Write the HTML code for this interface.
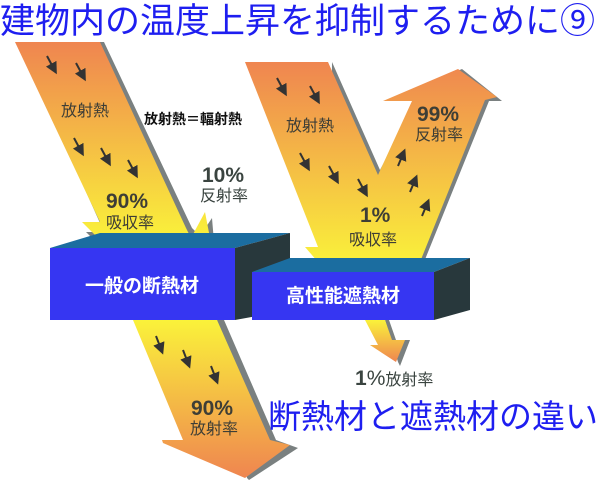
<!DOCTYPE html>
<html><head><meta charset="utf-8"><style>
body{margin:0;width:600px;height:480px;overflow:hidden;background:#fff}
svg{display:block}
text{font-family:"Liberation Sans","Noto Sans CJK JP",sans-serif}
</style></head><body>
<svg width="600" height="480" viewBox="0 0 600 480">
<defs>
<linearGradient id="g1" x1="0" y1="42" x2="0" y2="240" gradientUnits="userSpaceOnUse"><stop offset="0" stop-color="#ef8550"/><stop offset="1" stop-color="#faf23a"/></linearGradient>
<linearGradient id="g2" x1="0" y1="320" x2="0" y2="478" gradientUnits="userSpaceOnUse"><stop offset="0" stop-color="#faf23a"/><stop offset="1" stop-color="#ef8550"/></linearGradient>
<linearGradient id="g3" x1="0" y1="62" x2="0" y2="265" gradientUnits="userSpaceOnUse"><stop offset="0" stop-color="#ef8550"/><stop offset="1" stop-color="#faf23a"/></linearGradient>
<linearGradient id="g4" x1="0" y1="320" x2="0" y2="362" gradientUnits="userSpaceOnUse"><stop offset="0" stop-color="#faf23a"/><stop offset="1" stop-color="#ef8550"/></linearGradient>
<marker id="ah" markerWidth="6" markerHeight="6" refX="3" refY="3" orient="auto"><path d="M0,0 L6,3 L0,6 Z" fill="#333"/></marker>
</defs>
<text x="0" y="33" font-size="35" fill="#1e1ef0">建物内の温度上昇を抑制するために⑨</text>
<polygon points="19,42 104,42 192,228 200,236 212,218 214,242 202,250 104,250 86,232 104,232" fill="#7a8080"/>
<polygon points="15,42 100,42 186,228 191,238 205,212 210,238 100,240 82,222 100,222" fill="url(#g1)"/>
<polygon points="50,248 235,248 290,233 100,233" fill="#1b6da0"/>
<polygon points="235,248 290,233 290,310 235,320" fill="#28383c"/>
<rect x="50" y="248" width="185" height="72" fill="#3636f2"/>
<text x="142" y="292" font-size="19" font-weight="bold" fill="#fff" text-anchor="middle">一般の断熱材</text>
<polygon points="217,320 224,320 276,440 298,448 249,480 247,478" fill="#7a8080"/>
<polygon points="133,320 217,320 270,440 290,445 245,478 163,443 162,440 183,440" fill="url(#g2)"/>
<polygon points="332,62 380,170 416,101 386,101 462,69 502,101 489,101 424,262 330,262" fill="#7a8080"/>
<polygon points="245,62 328,62 378,175 412,101 383,101 458,69 497,97 485,100 420,262 318,262 305,247 318,247" fill="url(#g3)"/>
<polygon points="252,272 434,272 470,258 290,258" fill="#1b6da0"/>
<polygon points="434,272 470,258 470,310 434,320" fill="#28383c"/>
<rect x="252" y="272" width="182" height="48" fill="#3636f2"/>
<text x="343" y="302" font-size="19" font-weight="bold" fill="#fff" text-anchor="middle">高性能遮熱材</text>
<polygon points="385,320 389,320 396,340 410,340 400,366 398,362" fill="#7a8080"/>
<polygon points="365,320 385,320 392,340 405,340 396,362 370,345 378,345" fill="url(#g4)"/>
<g stroke="#333" stroke-width="2" marker-end="url(#ah)">
<line x1="47" y1="56" x2="54" y2="69"/><line x1="76" y1="63" x2="83" y2="76"/>
<line x1="74" y1="138" x2="81" y2="151"/><line x1="101" y1="148" x2="108" y2="161"/>
<line x1="128" y1="160" x2="135" y2="173"/>
<line x1="156" y1="336" x2="161" y2="349"/><line x1="183" y1="350" x2="188" y2="363"/>
<line x1="211" y1="366" x2="216" y2="379"/>
<line x1="277" y1="78" x2="284" y2="91"/><line x1="310" y1="86" x2="317" y2="99"/>
<line x1="300" y1="153" x2="307" y2="166"/><line x1="329" y1="166" x2="336" y2="179"/>
<line x1="358" y1="179" x2="365" y2="192"/>
<line x1="398" y1="166" x2="403" y2="154"/><line x1="410" y1="192" x2="415" y2="180"/>
<line x1="422" y1="216" x2="427" y2="204"/>
</g>
<g fill="#3e3e36" font-weight="bold">
<text x="61" y="116" font-size="16" font-weight="normal">放射熱</text>
<text x="286" y="131" font-size="16" font-weight="normal">放射熱</text>
<text x="144" y="124" font-size="14" fill="#111">放射熱＝輻射熱</text>
<text x="106" y="208" font-size="21">90%</text>
<text x="106" y="228" font-size="16" font-weight="normal">吸収率</text>
<text x="202" y="182" font-size="21" fill="#3a4440">10%</text>
<text x="200" y="201" font-size="16" font-weight="normal" fill="#3a4440">反射率</text>
<text x="360" y="222" font-size="21">1%</text>
<text x="349" y="245" font-size="16" font-weight="normal">吸収率</text>
<text x="417" y="121" font-size="21">99%</text>
<text x="415" y="140" font-size="16" font-weight="normal">反射率</text>
<text x="191" y="415" font-size="21">90%</text>
<text x="190" y="434" font-size="16" font-weight="normal">放射率</text>
<text x="355" y="385" font-size="21" fill="#3a4440">1<tspan font-weight="normal">%</tspan><tspan font-size="16" font-weight="normal">放射率</tspan></text>
</g>
<text x="268" y="428" font-size="33" fill="#1e1ef0">断熱材と遮熱材の違い</text>
</svg>
</body></html>
